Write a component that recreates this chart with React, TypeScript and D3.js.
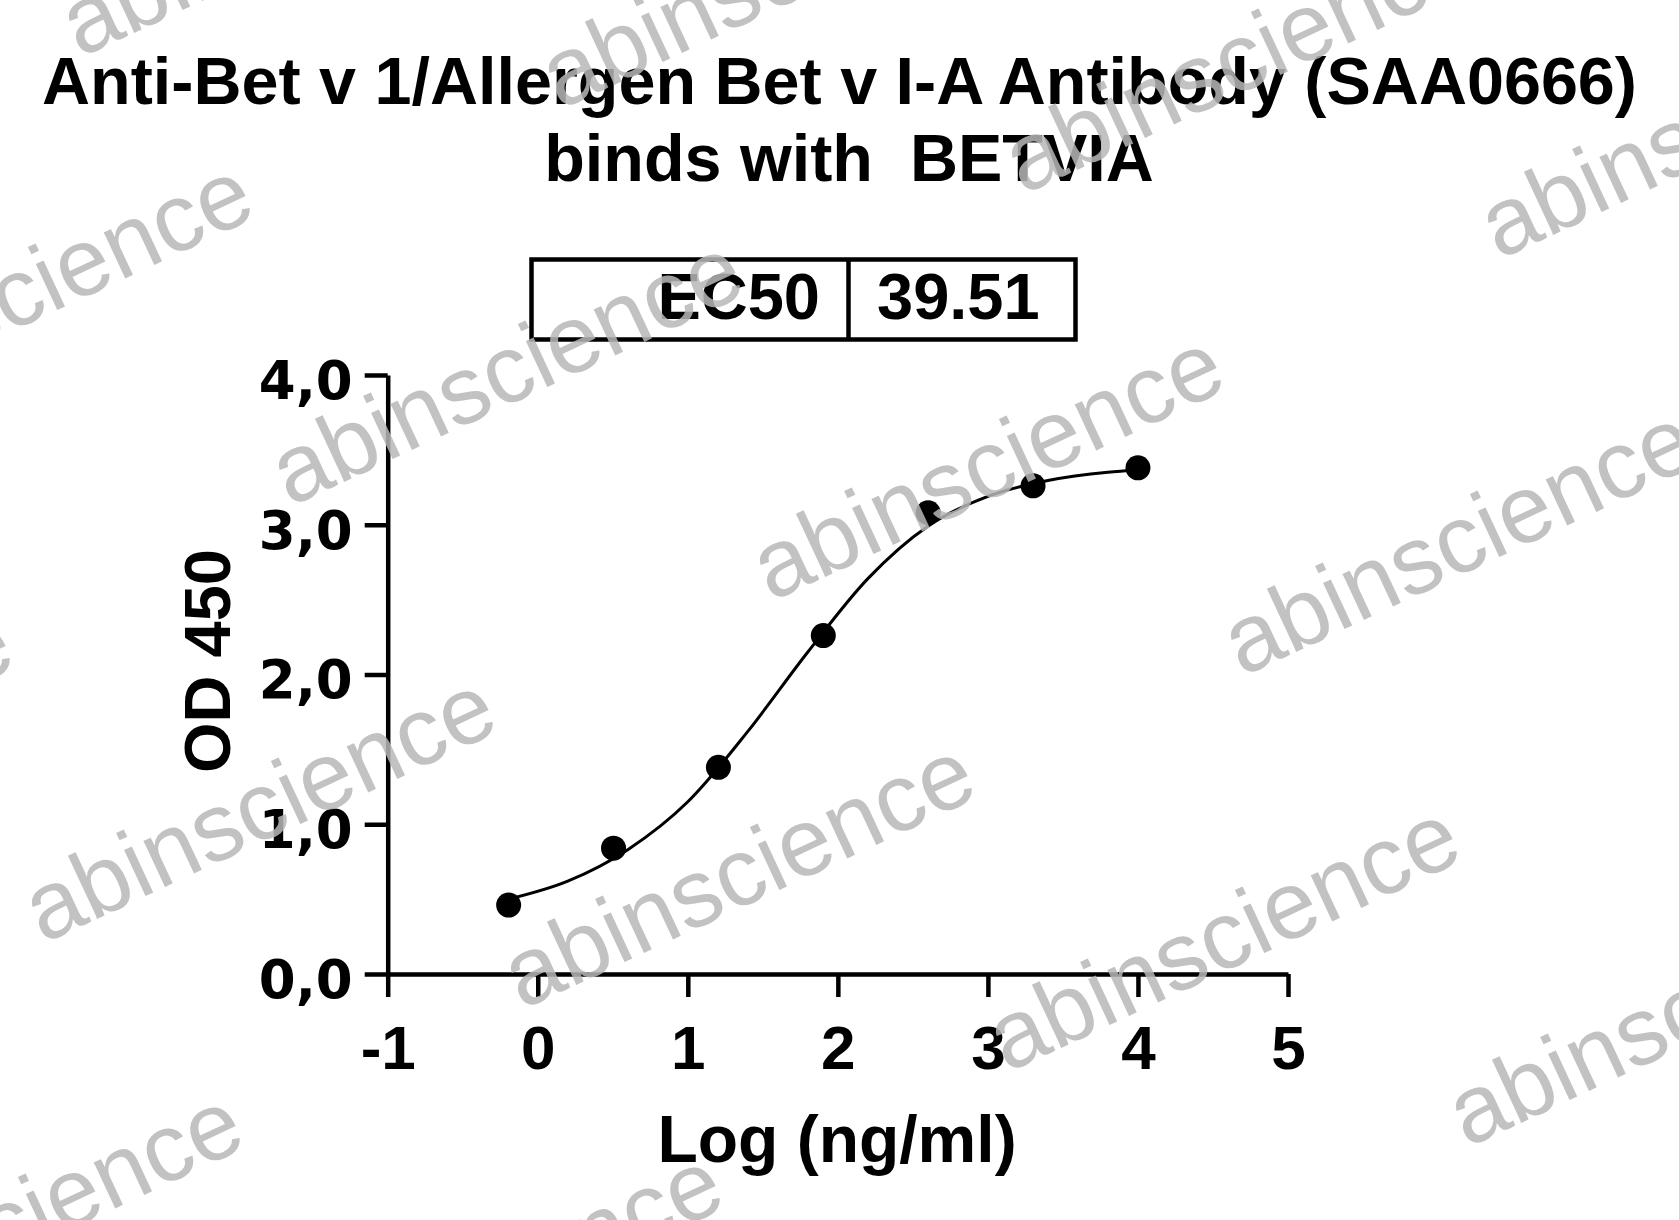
import React, { useEffect, useRef } from "react";
import * as d3 from "d3";

const titleLines = ["Anti-Bet v 1/Allergen Bet v I-A Antibody (SAA0666)", "binds with  BETVIA"];
const ec50Label = "EC50";
const ec50Value = "39.51";
const xLabel = "Log (ng/ml)";
const yLabel = "OD 450";
const xTicks = [-1, 0, 1, 2, 3, 4, 5];
const yTicks = [0, 1, 2, 3, 4];
const logConc = [-0.194, 0.505, 1.204, 1.903, 2.602, 3.301, 4.0];
const od450 = [0.46, 0.84, 1.38, 2.26, 3.08, 3.26, 3.38];
const fitLogConc = [-0.194, 0.2, 0.6, 1.0, 1.4, 1.8, 2.2, 2.6, 3.0, 3.4, 3.8, 4.0];
const fitOD = [0.5, 0.62, 0.83, 1.15, 1.62, 2.15, 2.64, 2.99, 3.19, 3.295, 3.35, 3.365];
const watermarkText = "abinscience";
const watermarkAnchors: [number, number][] = [
  [80, 58], [560, 110], [1023, 195], [1499, 260],
  [-200, 430], [290, 507], [771, 602], [1242, 677],
  [-440, 880], [43, 944], [522, 1010], [1007, 1073], [1467, 1148],
  [-210, 1360], [270, 1420], [760, 1486],
];

const W = 1679;
const H = 1220;
const PLOT = { left: 387.7, right: 1288, top: 375, bottom: 974 };
const BOLD = "'Liberation Sans', Arial, Helvetica, sans-serif";
const WIDE = "'DejaVu Sans', Verdana, sans-serif";

export default function App() {
  const xAxisRef = useRef<SVGGElement>(null);
  const yAxisRef = useRef<SVGGElement>(null);

  const x = d3.scaleLinear().domain([-1, 5]).range([PLOT.left, PLOT.right]);
  const y = d3.scaleLinear().domain([0, 4]).range([PLOT.bottom, PLOT.top]);
  const commaFmt = d3
    .formatLocale({ decimal: ",", thousands: ".", grouping: [3], currency: ["", ""] })
    .format(".1f");

  useEffect(() => {
    const gx = d3.select(xAxisRef.current as SVGGElement);
    gx.call(
      d3
        .axisBottom(x)
        .tickValues(xTicks)
        .tickFormat((d) => String(d))
        .tickSize(23)
        .tickSizeOuter(0)
        .tickPadding(28) as any
    );
    gx.attr("font-size", 62).attr("font-family", BOLD).attr("font-weight", "bold");
    gx.selectAll("path.domain").attr("stroke", "#000").attr("stroke-width", 4.5);
    gx.selectAll(".tick line").attr("stroke", "#000").attr("stroke-width", 4.5);
    gx.selectAll(".tick text").attr("fill", "#000");

    const gy = d3.select(yAxisRef.current as SVGGElement);
    gy.call(
      d3
        .axisLeft(y)
        .tickValues(yTicks)
        .tickFormat((d) => commaFmt(d as number))
        .tickSize(23)
        .tickSizeOuter(0)
        .tickPadding(12) as any
    );
    gy.attr("font-size", 53).attr("font-family", WIDE).attr("font-weight", "bold");
    gy.selectAll("path.domain").attr("stroke", "#000").attr("stroke-width", 4.5);
    gy.selectAll(".tick line").attr("stroke", "#000").attr("stroke-width", 4.5);
    gy.selectAll(".tick text").attr("fill", "#000").attr("dy", "0.44em");
  }, []);

  const fitPts: [number, number][] = fitLogConc.map((v, i) => [v, fitOD[i]]);
  const line = d3
    .line<[number, number]>()
    .x((d) => x(d[0]))
    .y((d) => y(d[1]))
    .curve(d3.curveMonotoneX);

  return (
    <svg
      width={W}
      height={H}
      style={{ position: "absolute", left: 0, top: 0, background: "#fff" }}
    >
      <rect x={0} y={0} width={W} height={H} fill="#fff" />
      {/* Title */}
      <text x={839.5} y={104} textAnchor="middle" fontFamily={BOLD} fontWeight="bold" fontSize={66.5} fill="#000">
        {titleLines[0]}
      </text>
      <text x={849} y={181} textAnchor="middle" fontFamily={BOLD} fontWeight="bold" fontSize={66.5} fill="#000" style={{ whiteSpace: "pre" }}>
        {titleLines[1]}
      </text>

      {/* EC50 box */}
      <rect x={531.5} y={259.5} width={544} height={80} fill="none" stroke="#000" strokeWidth={4.5} />
      <line x1={848.5} x2={848.5} y1={259.5} y2={339.5} stroke="#000" strokeWidth={4.5} />
      <text x={820} y={319} textAnchor="end" fontFamily={BOLD} fontWeight="bold" fontSize={65} fill="#000">
        {ec50Label}
      </text>
      <text x={877} y={319} textAnchor="start" fontFamily={BOLD} fontWeight="bold" fontSize={65} fill="#000">
        {ec50Value}
      </text>

      {/* Axes */}
      <g ref={xAxisRef} transform={`translate(0,${PLOT.bottom})`} />
      <g ref={yAxisRef} transform={`translate(${PLOT.left},0)`} />

      {/* Axis titles */}
      <text x={837} y={1162} textAnchor="middle" fontFamily={BOLD} fontWeight="bold" fontSize={66} fill="#000">
        {xLabel}
      </text>
      <text
        transform={`translate(230,661) rotate(-90)`}
        textAnchor="middle"
        fontFamily={BOLD}
        fontWeight="bold"
        fontSize={65}
        fill="#000"
      >
        {yLabel}
      </text>

      {/* Fit curve */}
      <path d={line(fitPts) || ""} fill="none" stroke="#000" strokeWidth={3} />

      {/* Data points */}
      {logConc.map((v, i) => (
        <circle key={i} cx={x(v)} cy={y(od450[i])} r={12.5} fill="#000" />
      ))}

      {/* Watermarks */}
      {watermarkAnchors.map(([ax, ay], i) => (
        <text
          key={`wm${i}`}
          transform={`translate(${ax},${ay}) rotate(-25)`}
          fontFamily="'Liberation Sans', Arial, sans-serif"
          fontSize={96}
          fill="#b8b8b8"
          opacity={0.85}
        >
          {watermarkText}
        </text>
      ))}
    </svg>
  );
}
